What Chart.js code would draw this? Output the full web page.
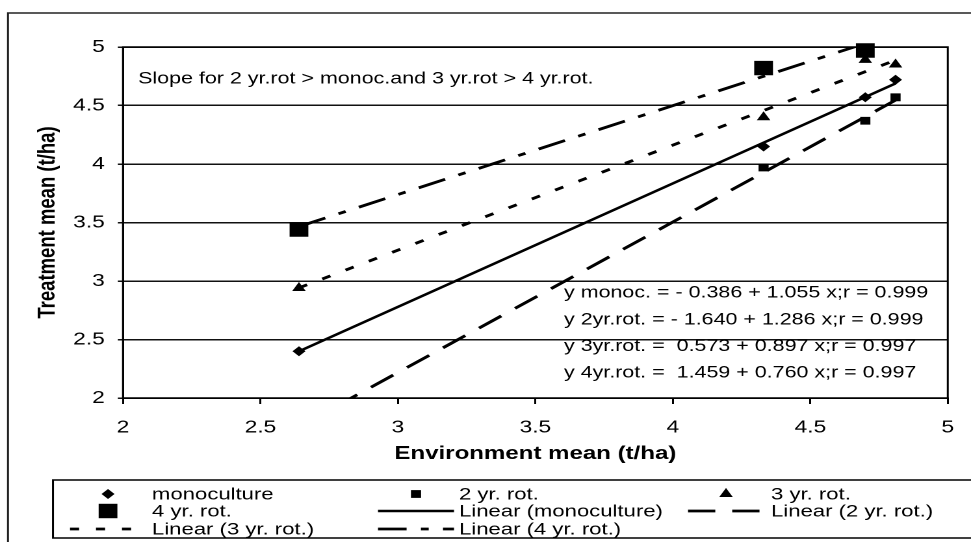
<!DOCTYPE html>
<html>
<head>
<meta charset="utf-8">
<script src="https://cdn.jsdelivr.net/npm/chart.js@4.4.1/dist/chart.umd.min.js"></script>
<style>
  html, body { margin: 0; padding: 0; background: #fff; }
  #wrap { width: 971px; height: 542px; }
  #c { width: 971px; height: 542px; display: block; }
</style>
</head>
<body>
<div id="wrap"><canvas id="c" width="747" height="542" style="width:971px;height:542px"></canvas></div>
<script>
// ---- data ----
const envMean      = [2.64, 4.33, 4.70, 4.81];            // Environment mean (t/ha)
const monoculture  = [2.40, 4.15, 4.57, 4.72];
const rot2         = [1.70, 3.97, 4.37, 4.57];
const rot3         = [2.94, 4.40, 4.89, 4.85];
const rot4         = [3.44, 4.82, 4.97, 5.13];
const seriesNames  = ['monoculture', '2 yr. rot.', '3 yr. rot.', '4 yr. rot.'];
const eqNames      = ['y monoc. =', 'y 2yr.rot. =', 'y 3yr.rot. =', 'y 4yr.rot. ='];
const intercepts   = [-0.386, -1.640, 0.573, 1.459];
const slopes       = [1.055, 1.286, 0.897, 0.760];
const rValues      = [0.999, 0.999, 0.997, 0.997];
const xTickValues  = [2, 2.5, 3, 3.5, 4, 4.5, 5];
const xTickLabels  = ['2', '2.5', '3', '3.5', '4', '4.5', '5'];
const yTickValues  = [2, 2.5, 3, 3.5, 4, 4.5, 5];
const yTickLabels  = ['2', '2.5', '3', '3.5', '4', '4.5', '5'];
const noteText     = 'Slope for 2 yr.rot > monoc.and 3 yr.rot > 4 yr.rot.';
const xTitle       = 'Environment mean (t/ha)';
const yTitle       = 'Treatment mean (t/ha)';

// horizontal stretch of the original picture
const S = 971 / 747;
const FONT = '"Liberation Sans", Arial, sans-serif';
const PADL = 26;

const seriesValues = [monoculture, rot2, rot3, rot4];
const toPoints = ys => envMean.map((x, i) => ({ x, y: ys[i] }));
const xMin = Math.min(...envMean), xMax = Math.max(...envMean);
const trend = i => [
  { x: xMin, y: intercepts[i] + slopes[i] * xMin },
  { x: xMax, y: intercepts[i] + slopes[i] * xMax }
];
const fmt = v => v.toFixed(3);
const equationLabels = eqNames.map((n, i) =>
  n + (intercepts[i] < 0 ? ' - ' + fmt(-intercepts[i]) : '  ' + fmt(intercepts[i])) +
  ' + ' + fmt(slopes[i]) + ' x;r = ' + fmt(rValues[i]));

const markerStyles = [
  { pointStyle: 'rectRot', radius: 5 },
  { pointStyle: 'rect', radius: 5.5 },
  { pointStyle: 'triangle', radius: 6 },
  { pointStyle: 'rect', radius: 10.2 }
];
const lineStyles = [
  { dash: [], width: 2.4 },
  { dash: [21, 13], width: 2.8 },
  { dash: [7, 13], width: 2.8 },
  { dash: [22, 11, 6, 11], width: 2.8 }
];

const datasets = [];
seriesNames.forEach((name, i) => {
  datasets.push({
    label: name,
    data: toPoints(seriesValues[i]),
    pointStyle: markerStyles[i].pointStyle,
    pointRadius: markerStyles[i].radius,
    pointBackgroundColor: '#000',
    pointBorderColor: '#000',
    pointBorderWidth: 0,
    showLine: false,
    clip: 5
  });
});
seriesNames.forEach((name, i) => {
  datasets.push({
    label: 'Linear (' + name + ')',
    data: trend(i),
    showLine: true,
    pointRadius: 0,
    borderColor: '#000',
    borderWidth: lineStyles[i].width,
    borderDash: lineStyles[i].dash,
    borderCapStyle: 'butt',
    fill: false,
    clip: 0
  });
});

const framePlugin = {
  id: 'frame',
  beforeDraw(chart) {
    const ctx = chart.ctx;
    ctx.save();
    ctx.fillStyle = '#fff';
    ctx.fillRect(0, 0, chart.width, chart.height);
    ctx.strokeStyle = '#222';
    ctx.lineWidth = 1.5;
    ctx.strokeRect(8 / S, 13, chart.width + 20, chart.height + 20);
    ctx.restore();
  },
  afterDatasetsDraw(chart) {
    const ctx = chart.ctx, a = chart.chartArea;
    ctx.save();
    ctx.strokeStyle = '#000';
    ctx.lineWidth = 1.5;
    ctx.strokeRect(a.left, a.top, a.right - a.left, a.bottom - a.top);
    // annotations
    const xs = chart.scales.x, ys = chart.scales.y;
    ctx.fillStyle = '#000';
    ctx.textBaseline = 'middle';
    ctx.textAlign = 'left';
    ctx.font = '16.5px ' + FONT;
    ctx.fillText(noteText, xs.getPixelForValue(2.055), ys.getPixelForValue(4.727));
    const ex = xs.getPixelForValue(3.604);
    const ey = ys.getPixelForValue(2.897);
    equationLabels.forEach((t, i) => ctx.fillText(t, ex, ey + i * 26.7));
    ctx.restore();
  }
};

const legendPlugin = {
  id: 'customLegend',
  afterDraw(chart) {
    const ctx = chart.ctx;
    ctx.save();
    ctx.strokeStyle = '#000';
    ctx.lineWidth = 1.5;
    ctx.strokeRect(53 / S, 480, chart.width + 20, 58);
    const colCenter = [108 / S, 416 / S, 726 / S];
    const colText = [152 / S, 459 / S, 771 / S];
    const rows = [494, 511, 529];
    const half = 38 / S;
    ctx.font = '17px ' + FONT;
    ctx.textBaseline = 'middle';
    ctx.textAlign = 'left';
    chart.data.datasets.forEach((ds, k) => {
      const col = k % 3, row = Math.floor(k / 3);
      const cx = colCenter[col], cy = rows[row];
      ctx.fillStyle = '#000';
      ctx.strokeStyle = '#000';
      if (ds.showLine) {
        ctx.save();
        ctx.lineWidth = ds.borderWidth;
        ctx.setLineDash(ds.borderDash || []);
        ctx.lineCap = 'butt';
        ctx.beginPath();
        ctx.moveTo(cx - half, cy);
        ctx.lineTo(cx + half, cy);
        ctx.stroke();
        ctx.restore();
      } else {
        Chart.helpers.drawPoint(ctx, {
          pointStyle: ds.pointStyle, radius: ds.pointRadius, rotation: 0, borderWidth: 0
        }, cx, cy);
      }
      ctx.fillStyle = '#000';
      ctx.fillText(ds.label, colText[col], cy + 1);
    });
    ctx.restore();
  }
};

new Chart(document.getElementById('c'), {
  type: 'scatter',
  data: { datasets },
  options: {
    responsive: false,
    devicePixelRatio: 2,
    animation: false,
    events: [],
    layout: { padding: { left: PADL, right: 747 - 949 / S, top: 47, bottom: 62 } },
    plugins: { legend: { display: false }, tooltip: { enabled: false } },
    scales: {
      x: {
        type: 'linear', min: 2, max: 5,
        afterFit(s) { s.height = 82; },
        afterBuildTicks(s) { s.ticks = xTickValues.map(v => ({ value: v })); },
        grid: { drawOnChartArea: false, drawTicks: true, tickLength: 6, color: '#000', lineWidth: 1.5 },
        border: { display: true, color: '#000', width: 1.5 },
        ticks: { color: '#000', padding: 13, font: { family: FONT, size: 17.5 }, maxRotation: 0,
                 callback: (v, i) => xTickLabels[i] },
        title: { display: true, text: xTitle, color: '#000', padding: { top: 0, bottom: 15 },
                 font: { family: FONT, size: 18.5, weight: 'bold' } }
      },
      y: {
        type: 'linear', min: 2, max: 5,
        afterFit(s) { s.width = 123 / S - PADL; },
        afterBuildTicks(s) { s.ticks = yTickValues.map(v => ({ value: v })); },
        grid: { drawOnChartArea: true, drawTicks: true, tickLength: 4, color: '#111', lineWidth: 1.5 },
        border: { display: true, color: '#000', width: 1.5 },
        ticks: { color: '#000', padding: 10, font: { family: FONT, size: 17.5 },
                 callback: (v, i) => yTickLabels[i] },
        title: { display: true, text: yTitle, color: '#000', padding: { top: 0, bottom: 0 },
                 font: { family: FONT, size: 18.5, weight: 'bold' } }
      }
    }
  },
  plugins: [framePlugin, legendPlugin]
});
</script>
</body>
</html>
